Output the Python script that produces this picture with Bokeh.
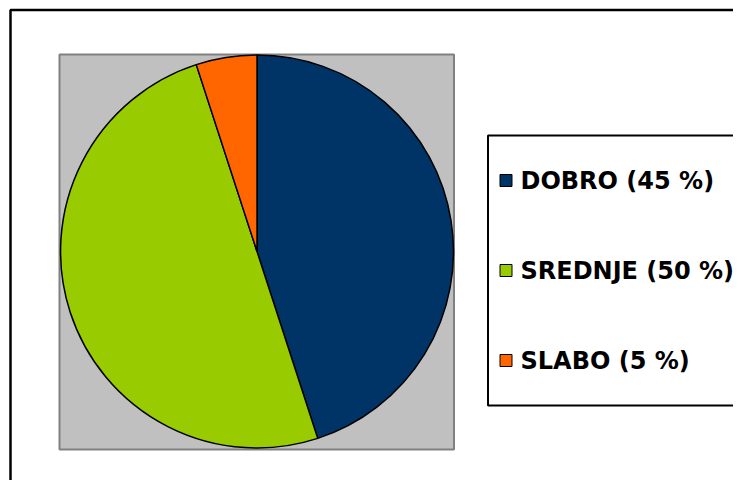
from bokeh.plotting import figure
from bokeh.models import Range1d, ColumnDataSource
from bokeh.core.properties import value
from bokeh.embed import file_html
from bokeh.resources import INLINE

categories = ["DOBRO", "SREDNJE", "SLABO"]
percents = [45, 50, 5]
colors = ["#003366", "#99cc00", "#ff6600"]
labels = [f"{c} ({v} %)" for c, v in zip(categories, percents)]

W, H = 733, 480
p = figure(width=W, height=H, output_backend="svg", toolbar_location=None,
           x_range=Range1d(0, W), y_range=Range1d(0, H),
           min_border=0, min_border_left=0, min_border_right=0,
           min_border_top=0, min_border_bottom=0)
p.axis.visible = False
p.grid.visible = False
p.outline_line_color = None
p.background_fill_color = "white"
p.border_fill_color = "white"

def Y(y):  # image y (top-down) -> data y
    return H - y

# outer chart border (extends past the visible area)
p.quad(left=[10], right=[900], top=[Y(9.5)], bottom=[Y(700)],
       fill_color=None, line_color="black", line_width=2.5)

# plot area
p.quad(left=[59], right=[453.5], top=[Y(54)], bottom=[Y(449)],
       fill_color="#c0c0c0", line_color="#808080", line_width=2)

# pie
total = sum(percents)
starts, ends = [], []
cum = 0
for v in percents:
    starts.append(90 - cum / total * 360)
    cum += v
    ends.append(90 - cum / total * 360)
src = ColumnDataSource(dict(start=starts, end=ends, color=colors))
p.wedge(x=256.5, y=Y(251), radius=196.5, start_angle="start", end_angle="end",
        start_angle_units="deg", end_angle_units="deg", direction="clock",
        fill_color="color", line_color="black", line_width=1.5, source=src)

# legend box
p.quad(left=[487.5], right=[900], top=[Y(135)], bottom=[Y(405)],
       fill_color="white", line_color="black", line_width=2)

ys = [Y(180), Y(270), Y(360)]
leg = ColumnDataSource(dict(y=ys, color=colors, label=labels))
p.rect(x=505.5, y="y", width=12, height=12, fill_color="color",
       line_color="black", line_width=1, source=leg)
p.text(x=520, y="y", text="label", text_font=value("DejaVu Sans"),
       text_font_style="bold", text_font_size="24px", text_color="black",
       text_baseline="middle", text_align="left", source=leg)

open("out.html", "w").write(file_html(p, INLINE))
